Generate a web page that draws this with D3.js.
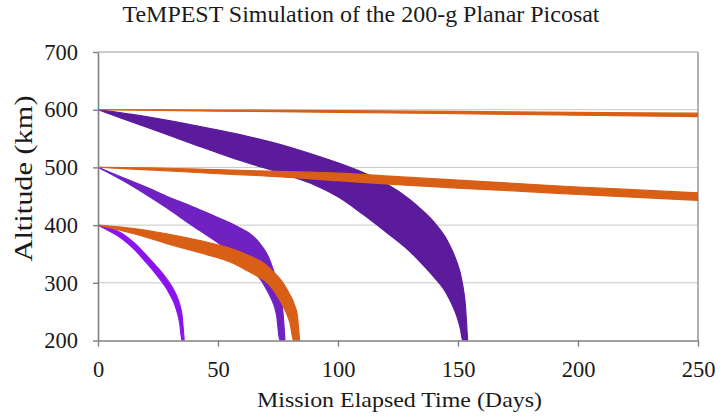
<!DOCTYPE html>
<html>
<head>
<meta charset="utf-8">
<script src="https://cdn.jsdelivr.net/npm/d3@7"></script>
<style>
  html, body { margin: 0; padding: 0; background: #fff; }
  svg { display: block; }
  svg text { font-family: "Liberation Serif", "Times New Roman", Tinos, serif; }
</style>
</head>
<body>
<svg id="chart" width="722" height="418"></svg>
<script>
// Text
const chartTitle = "TeMPEST Simulation of the 200-g Planar Picosat";
const xTitle = "Mission Elapsed Time (Days)";
const yTitle = "Altitude (km)";
const serifStack = "'Liberation Serif', 'Times New Roman', Tinos, serif";

// Tick values
const xTicks = [0, 50, 100, 150, 200, 250];
const yTicks = [200, 300, 400, 500, 600, 700];

// Altitude envelopes, each row: [day, upper km, lower km]
const orange600 = [[0,600,600],[50,599.5,597.5],[100,598.5,595.5],[150,597,593],[200,595.5,590.5],[250,594,588]];
const orange500 = [[0,500,500],[25,499,495],[50,496,489],[75,493,484],[100,490,477],[125,484,470],[150,478,464],[175,472,459],[200,466,453],[225,461,448],[250,456,443]];
const orange400 = [[0,400,400],[15,394,385],[28.6,385,368],[42.5,373,352],[56.3,358,334],[63,347,319],[67,339,310],[70,331,302],[73,319,288],[76,306,268],[78,294,252],[80,279,230],[81.5,266,200],[82,260,200],[83,245,200],[84,200,200]];
const purple600 = [[0,600,600],[20,588,570],[40,573,540],[60,556,511],[80,535,485],[90,522,470],[100,508,449],[110,492,420],[120,472,388],[130,444,354],[135,426,333],[140,405,310],[145,377,283],[148,352,258],[150,330,236],[151,316,220],[152,295,200],[153,265,200],[154,200,200]];
const purple500 = [[0,500,500],[10,483,478],[20,466,453],[28.6,450,430],[40,431,397],[49.4,414,371],[55,404,354],[60,393,338],[63.3,385,326],[66,375,314],[68,365,304],[70,353,290],[72,335,274],[74.4,303,244],[75.8,276,200],[77,252,200],[77.9,200,200]];
const violet400 = [[0,400,400],[5,395,389],[10,385.5,376.5],[15,369.5,358.5],[20,348.5,335.5],[25,325.5,310.5],[28,310.5,293.5],[30,298.5,279.5],[32,284,262],[33,275,249],[34,263,231],[35,244,200],[35.9,200,200]];

const series = [
  { rows: purple600, color: "#5c1a9c" },
  { rows: purple500, color: "#7021c2" },
  { rows: violet400, color: "#8b14ee" },
  { rows: orange600, color: "#d95f16" },
  { rows: orange500, color: "#d95f16" },
  { rows: orange400, color: "#d95f16" }
];

const svg = d3.select("#chart");
const plotLeft = 98, plotRight = 698, plotTop = 52, plotBottom = 340.5;

const x = d3.scaleLinear().domain([0, 250]).range([plotLeft, plotRight]);
const y = d3.scaleLinear().domain([200, 700]).range([plotBottom, plotTop]);

svg.append("defs").append("clipPath").attr("id", "plot-clip")
  .append("rect").attr("x", plotLeft).attr("y", plotTop)
  .attr("width", plotRight - plotLeft).attr("height", plotBottom - plotTop);

// Gridlines
svg.append("g").selectAll("line")
  .data(yTicks.filter(v => v > 200 && v < 700))
  .join("line")
  .attr("x1", plotLeft).attr("x2", plotRight)
  .attr("y1", d => y(d)).attr("y2", d => y(d))
  .attr("stroke", "#c8c8c8").attr("stroke-width", 1);

// Frame top and right
svg.append("line").attr("x1", plotLeft).attr("x2", plotRight).attr("y1", y(700)).attr("y2", y(700))
  .attr("stroke", "#999").attr("stroke-width", 1.2);
svg.append("line").attr("x1", x(250)).attr("x2", x(250)).attr("y1", plotTop).attr("y2", plotBottom)
  .attr("stroke", "#999").attr("stroke-width", 1.5);

// Altitude bands
const area = d3.area()
  .x(d => x(d[0]))
  .y0(d => y(d[2]))
  .y1(d => y(d[1]))
  .curve(d3.curveMonotoneX);

svg.append("g").attr("clip-path", "url(#plot-clip)")
  .selectAll("path")
  .data(series)
  .join("path")
  .attr("d", d => area(d.rows))
  .attr("fill", d => d.color)
  .attr("stroke", d => d.color)
  .attr("stroke-width", 1.2);

// Axes
const yAxis = svg.append("g").attr("transform", `translate(${plotLeft},0)`)
  .call(d3.axisLeft(y).tickValues(yTicks).tickSize(5).tickPadding(15).tickSizeOuter(0));
const xAxis = svg.append("g").attr("transform", `translate(0,${plotBottom})`)
  .call(d3.axisBottom(x).tickValues(xTicks).tickSize(6).tickPadding(15).tickSizeOuter(0));

[yAxis, xAxis].forEach(g => {
  g.attr("font-family", serifStack);
  g.select(".domain").attr("stroke", "#808080").attr("stroke-width", 1.6);
  g.selectAll(".tick line").attr("stroke", "#808080").attr("stroke-width", 1.4);
  g.selectAll(".tick text")
    .attr("fill", "#1a1a1a")
    .attr("font-family", serifStack)
    .style("font-size", "22.5px");
});

// Titles
svg.append("text")
  .attr("x", 361).attr("y", 22)
  .attr("text-anchor", "middle")
  .attr("font-family", serifStack)
  .attr("textLength", 477).attr("lengthAdjust", "spacingAndGlyphs")
  .style("font-size", "23px").attr("fill", "#1a1a1a")
  .text(chartTitle);

svg.append("text")
  .attr("x", 399.5).attr("y", 407)
  .attr("text-anchor", "middle")
  .attr("font-family", serifStack)
  .attr("textLength", 285).attr("lengthAdjust", "spacingAndGlyphs")
  .style("font-size", "22px").attr("fill", "#1a1a1a")
  .text(xTitle);

svg.append("text")
  .attr("transform", "translate(32,178.5) rotate(-90)")
  .attr("text-anchor", "middle")
  .attr("font-family", serifStack)
  .attr("textLength", 166).attr("lengthAdjust", "spacingAndGlyphs")
  .style("font-size", "25px").attr("fill", "#1a1a1a")
  .text(yTitle);
</script>
</body>
</html>
